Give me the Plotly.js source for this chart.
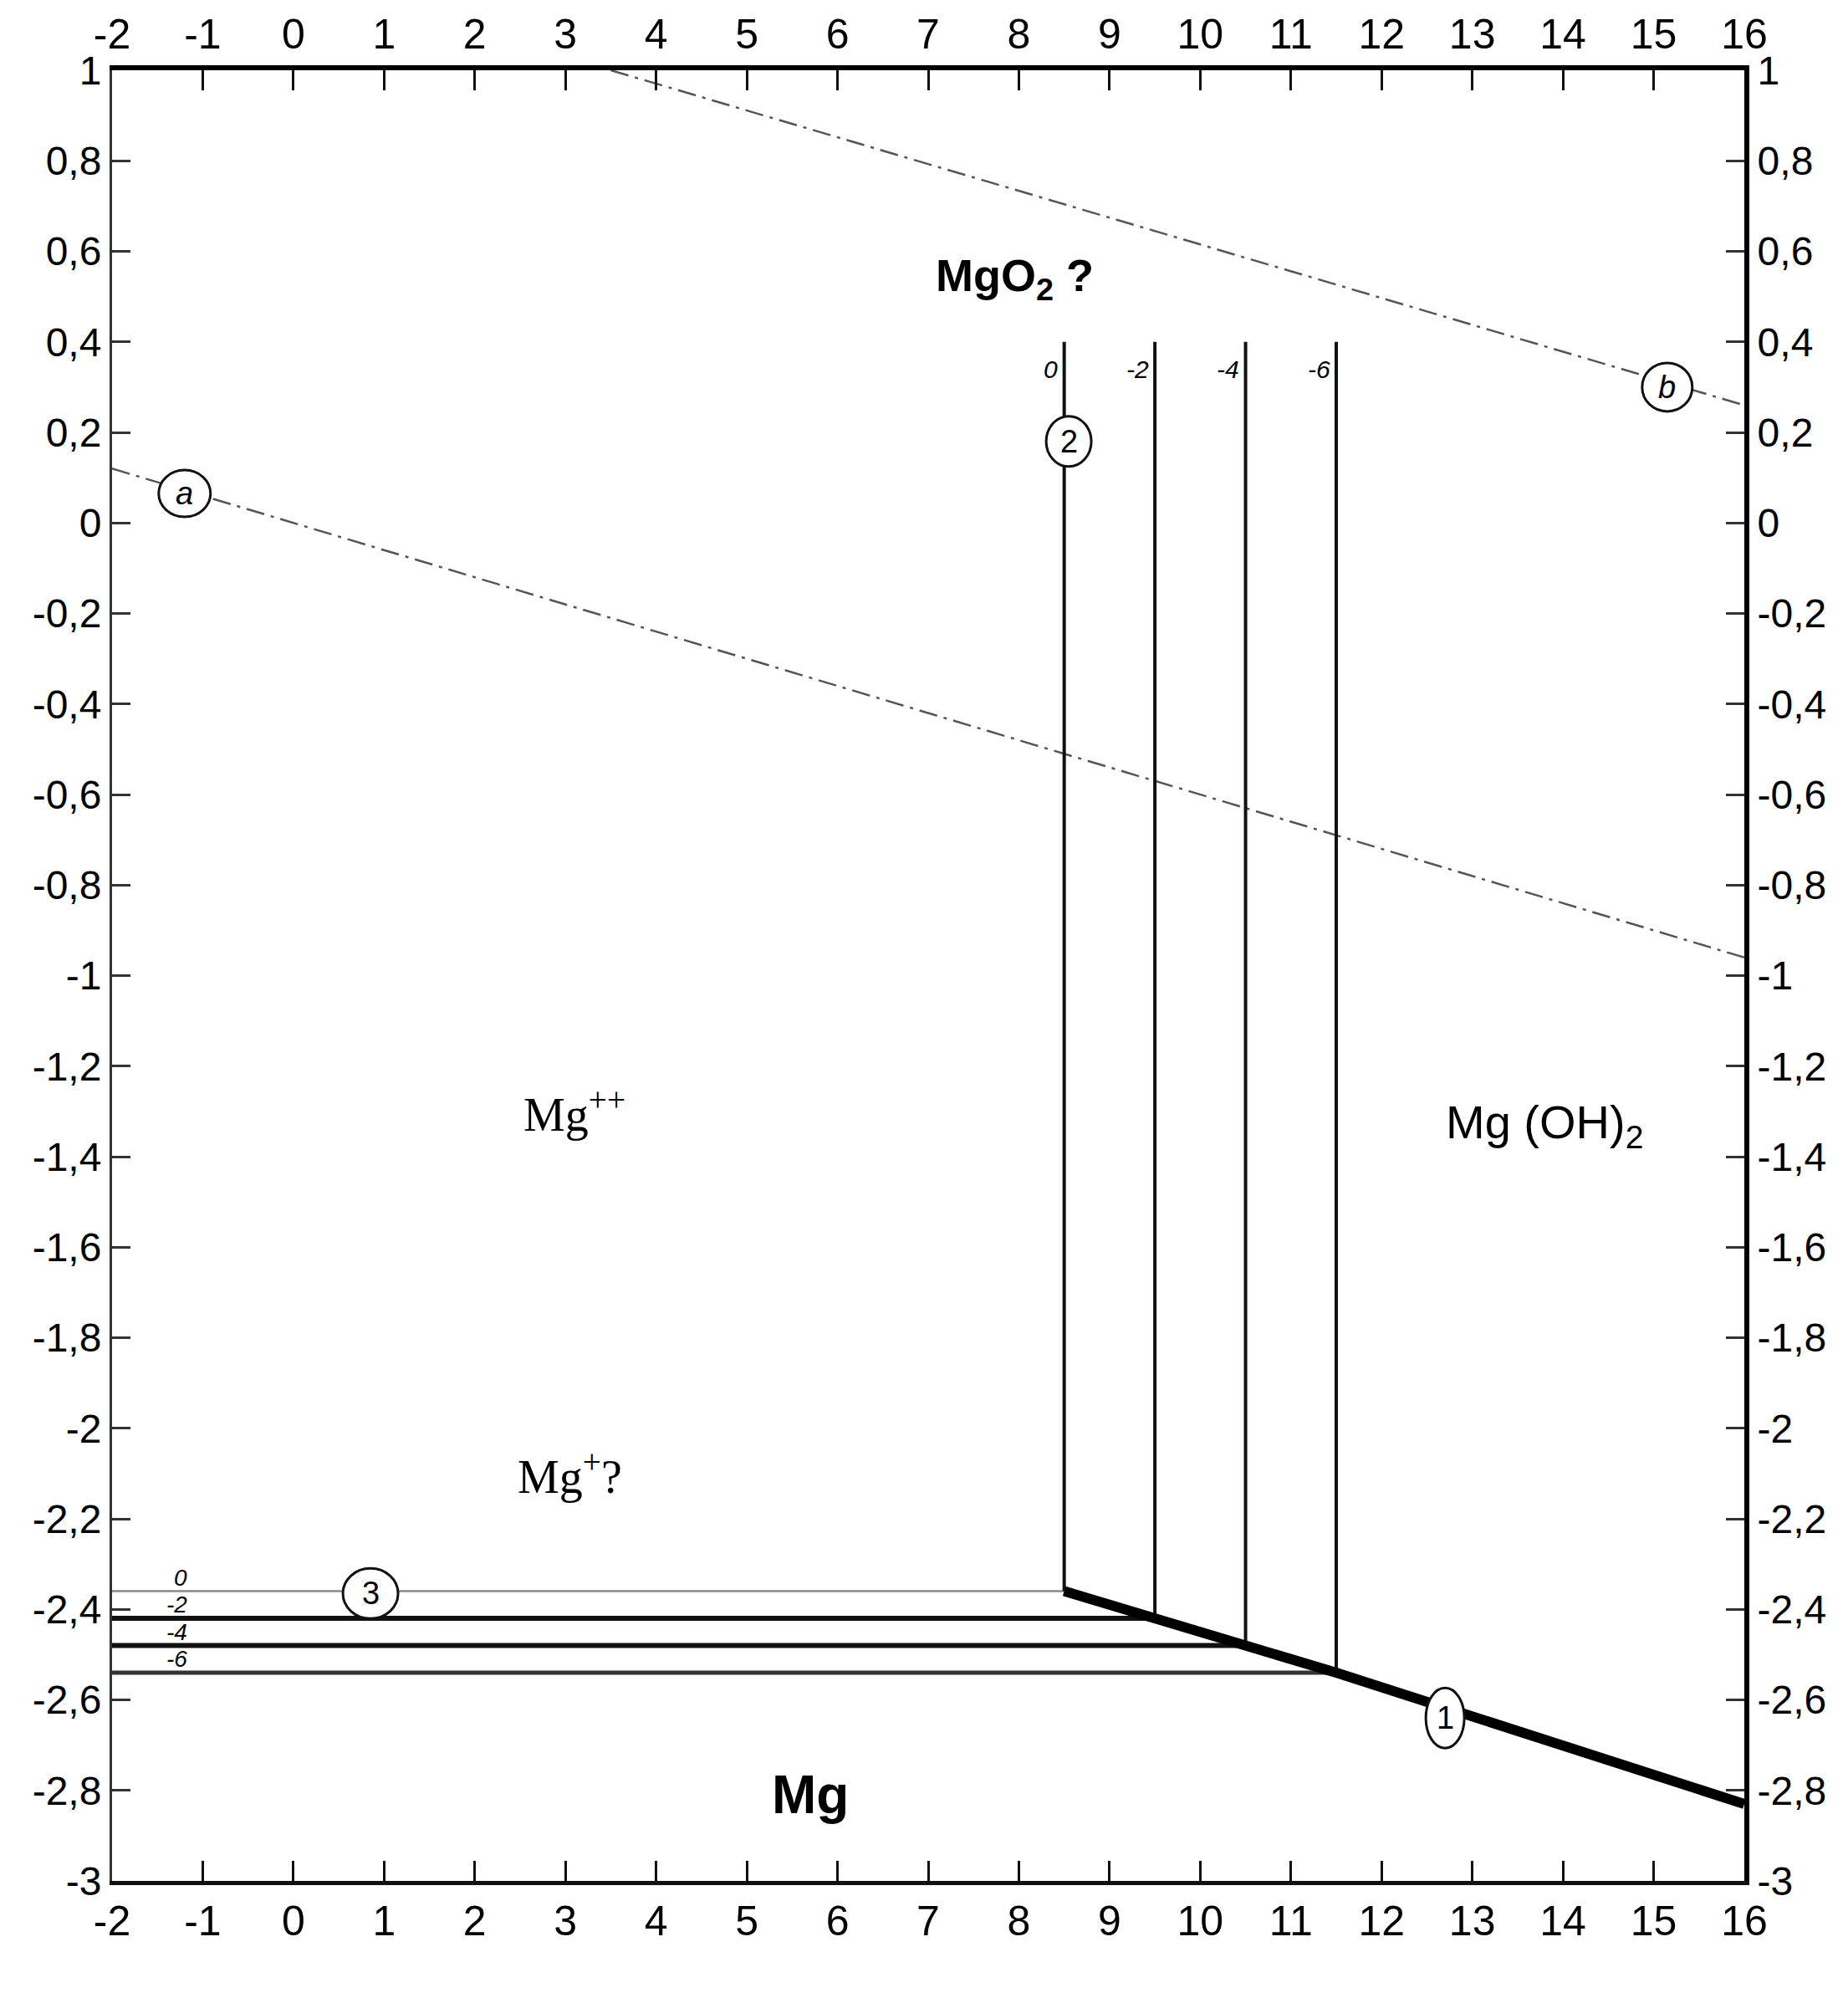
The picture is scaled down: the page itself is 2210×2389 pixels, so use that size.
<!DOCTYPE html>
<html>
<head>
<meta charset="utf-8">
<script src="https://cdn.plot.ly/plotly-3.0.1.min.js"></script>
<style>
  body { margin: 0; background: #fff; }
  #grafico { width: 2210px; height: 2389px; }
</style>
</head>
<body>
<div id="grafico"></div>
<script>
// ejes
let phTicks = [-2, -1, 0, 1, 2, 3, 4, 5, 6, 7, 8, 9, 10, 11, 12, 13, 14, 15, 16];
let eTicks = [1, 0.8, 0.6, 0.4, 0.2, 0, -0.2, -0.4, -0.6, -0.8, -1, -1.2, -1.4, -1.6, -1.8, -2, -2.2, -2.4, -2.6, -2.8, -3];
let eTickText = ["1", "0,8", "0,6", "0,4", "0,2", "0", "-0,2", "-0,4", "-0,6", "-0,8", "-1", "-1,2", "-1,4", "-1,6", "-1,8", "-2", "-2,2", "-2,4", "-2,6", "-2,8", "-3"];

// lineas del agua (a) y (b)
let lineaA_ph = [-2, 16];
let lineaA_e = [0.12, -0.96];
let lineaB_ph = [3.5, 16];
let lineaB_e = [1.0, 0.26];

// linea 1 : Mg / Mg(OH)2
let linea1_ph = [8.5, 9.5, 10.5, 11.5, 16];
let linea1_e = [-2.36, -2.42, -2.48, -2.54, -2.83];

// lineas 2 y 3 para log[Mg++] = 0, -2, -4, -6
let logMg = ["0", "-2", "-4", "-6"];
let linea3_e = [-2.36, -2.42, -2.48, -2.54];
let linea2_ph = [8.5, 9.5, 10.5, 11.5];
let linea2_tope = 0.4;
let anchoH = [2.5, 6, 6, 5];
let colorH = ["#888", "#111", "#111", "#333"];

// circulos con numero
let circ_txt = ["a", "b", "2", "3", "1"];
let circ_ph = [-1.2, 15.15, 8.55, 0.85, 12.7];
let circ_e = [0.065, 0.3, 0.18, -2.365, -2.64];
let circ_rx = [31, 30, 27, 33, 23];
let circ_ry = [28, 29, 30, 30, 36];

// rotulos de zonas
let zonas_txt = ["<b>MgO<sub>2</sub> ?</b>", "Mg<sup>++</sup>", "Mg (OH)<sub>2</sub>", "Mg<sup>+</sup>?", "<b>Mg</b>"];
let zonas_ph = [7.95, 3.1, 13.8, 3.05, 5.7];
let zonas_e = [0.54, -1.3, -1.33, -2.1, -2.81];
let zonas_font = ["Liberation Sans", "Liberation Serif", "Liberation Sans", "Liberation Serif", "Liberation Sans"];
let zonas_size = [54, 56, 56, 56, 64];

let trazos = [];

trazos.push({
    x: lineaA_ph, y: lineaA_e, mode: 'lines', type: 'scatter',
    line: { color: '#555', width: 2.5, dash: '22px,8px,4px,8px' }
});
trazos.push({
    x: lineaB_ph, y: lineaB_e, mode: 'lines', type: 'scatter',
    line: { color: '#555', width: 2.5, dash: '22px,8px,4px,8px' }
});

for (let i = 0; i < logMg.length; i++) {
    // horizontal (3)
    trazos.push({
        x: [-2, linea2_ph[i]], y: [linea3_e[i], linea3_e[i]], mode: 'lines', type: 'scatter',
        line: { color: colorH[i], width: anchoH[i] }
    });
    // vertical (2)
    trazos.push({
        x: [linea2_ph[i], linea2_ph[i]], y: [linea2_tope, linea3_e[i]], mode: 'lines', type: 'scatter',
        line: { color: '#111', width: 4 }
    });
}

trazos.push({
    x: linea1_ph, y: linea1_e, mode: 'lines', type: 'scatter',
    line: { color: '#000', width: 12 }
});

// trazo invisible para los ejes de arriba y derecha
trazos.push({
    x: [-2, 16], y: [-3, 1], xaxis: 'x2', yaxis: 'y2', mode: 'markers', type: 'scatter',
    marker: { opacity: 0 }, hoverinfo: 'skip'
});

let formas = [];
let notas = [];

for (let i = 0; i < circ_txt.length; i++) {
    formas.push({
        type: 'circle', xref: 'x', yref: 'y',
        xsizemode: 'pixel', ysizemode: 'pixel',
        xanchor: circ_ph[i], yanchor: circ_e[i],
        x0: -circ_rx[i], x1: circ_rx[i], y0: -circ_ry[i], y1: circ_ry[i],
        line: { color: '#111', width: 3 }, fillcolor: '#fff', layer: 'above'
    });
    notas.push({
        x: circ_ph[i], y: circ_e[i], xref: 'x', yref: 'y', showarrow: false,
        text: circ_txt[i],
        font: { family: 'Liberation Sans', size: 38, color: '#000', style: i < 2 ? 'italic' : 'normal' }
    });
}

for (let i = 0; i < zonas_txt.length; i++) {
    notas.push({
        x: zonas_ph[i], y: zonas_e[i], xref: 'x', yref: 'y', showarrow: false,
        text: zonas_txt[i],
        font: { family: zonas_font[i], size: zonas_size[i], color: '#000' }
    });
}

// rotulos chicos de log[Mg++] arriba de las verticales
for (let i = 0; i < logMg.length; i++) {
    notas.push({
        x: linea2_ph[i] - 0.05, y: 0.34, xref: 'x', yref: 'y', showarrow: false,
        xanchor: 'right', text: logMg[i],
        font: { family: 'Liberation Sans', size: 30, color: '#000', style: 'italic' }
    });
}
// rotulos chicos a la izquierda
let izq_e = [-2.33, -2.39, -2.45, -2.51];
for (let i = 0; i < logMg.length; i++) {
    notas.push({
        x: -1.15, y: izq_e[i], xref: 'x', yref: 'y', showarrow: false,
        xanchor: 'right', text: logMg[i],
        font: { family: 'Liberation Sans', size: 28, color: '#000', style: 'italic' }
    });
}

notas.push({
    x: -2.72, y: 0.73, xref: 'x', yref: 'y', showarrow: false,
    text: 'E(V)', font: { family: 'Liberation Sans', size: 42, color: '#000' }
});
notas.push({
    x: 15.66, y: -3.22, xref: 'x', yref: 'y', showarrow: false,
    text: 'pH', font: { family: 'Liberation Sans', size: 38, color: '#000' }
});

let ejeX = {
    range: [-2, 16], tickvals: phTicks, ticktext: phTicks.map(String),
    ticks: 'inside', ticklen: 24, tickwidth: 3, tickcolor: '#111',
    showline: true, linecolor: '#111', linewidth: 5,
    showgrid: false, zeroline: false, fixedrange: true,
    tickfont: { family: 'Liberation Sans', size: 50, color: '#000' }
};
let ejeY = {
    range: [-3, 1], tickvals: eTicks, ticktext: eTickText,
    ticks: 'inside', ticklen: 22, tickwidth: 3, tickcolor: '#333',
    showline: true, linecolor: '#333', linewidth: 3,
    showgrid: false, zeroline: false, fixedrange: true,
    tickfont: { family: 'Liberation Sans', size: 48, color: '#000' }
};

let layout = {
    width: 2210, height: 2389,
    margin: { l: 134, r: 124, t: 84, b: 140 },
    paper_bgcolor: '#fff', plot_bgcolor: '#fff',
    showlegend: false,
    xaxis: ejeX,
    yaxis: ejeY,
    xaxis2: Object.assign({}, ejeX, { overlaying: 'x', side: 'top', anchor: 'y', linewidth: 6, linecolor: '#000' }),
    yaxis2: Object.assign({}, ejeY, { overlaying: 'y', side: 'right', anchor: 'x', linewidth: 6, linecolor: '#000' }),
    shapes: formas,
    annotations: notas
};

Plotly.newPlot('grafico', trazos, layout, { displayModeBar: false, staticPlot: true });
</script>
</body>
</html>
